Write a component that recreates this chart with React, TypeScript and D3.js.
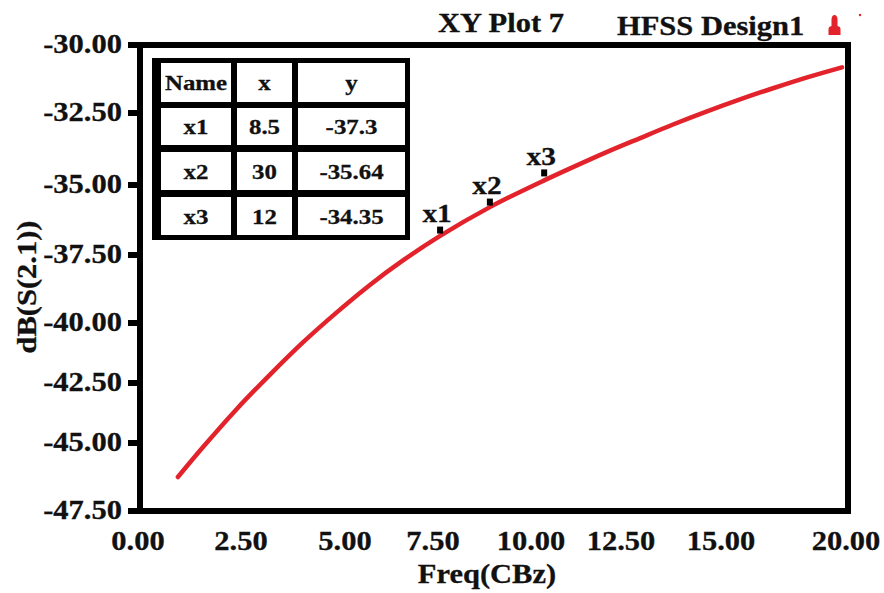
import * as d3 from "d3";

// chart size
const width = 884;
const height = 593;

// axis ticks (the picture's axes are unevenly spaced, so scales are piecewise)
const xTicks = [0, 2.5, 5, 7.5, 10, 12.5, 15, 20];
const xTickPos = [140, 243, 347, 435, 533, 623, 723, 848];
const yTicks = [-30, -32.5, -35, -37.5, -40, -42.5, -45, -47.5];
const yTickPos = [45, 113, 185, 255, 323, 383, 443, 511];

// dB(S(2,1)) curve
const freq = [0.92, 1.53, 2.35, 3.15, 3.94, 4.76, 5.65, 6.59, 7.63, 8.9, 10.31, 11.11, 12.06, 12.93, 13.75, 14.6, 15.68, 17.0, 18.4, 19.76];
const dB = [-46.25, -45.15, -43.58, -42.15, -40.81, -39.6, -38.6, -37.7, -36.82, -35.79, -34.84, -34.38, -33.85, -33.37, -32.9, -32.44, -32.0, -31.59, -31.18, -30.82];

// markers on the curve
const markerNames = ["x1", "x2", "x3"];
const markerFreq = [7.63, 8.9, 10.31];
const markerDB = [-36.61, -35.61, -34.58];

// marker table text (as printed)
const tableHeader = ["Name", "x", "y"];
const tableX = ["8.5", "30", "12"];
const tableY = ["-37.3", "-35.64", "-34.35"];

const font = "'Liberation Serif', 'Times New Roman', serif";
const ink = "#111";
const red = "#e3232b";

const x = d3.scaleLinear().domain(xTicks).range(xTickPos);
const y = d3.scaleLinear().domain(yTicks).range(yTickPos);

const T = ({ px, py, size = 27, anchor = "start", rotate = 0, children }: any) => (
	<text
		transform={`translate(${px},${py}) rotate(${rotate}) scale(1.13,1)`}
		textAnchor={anchor}
		fontFamily={font}
		fontWeight="bold"
		fontSize={size}
		fill={ink}
		stroke={ink}
		strokeWidth={0.3}
	>
		{children}
	</text>
);

// table layout
const colEdges = [[161, 231], [237, 292], [298, 405]];
const rowEdges = [[63, 102], [108, 145], [152, 190], [197, 235]];

const App = () => {
	const line = d3.line<number>()
		.x((d, i) => x(freq[i]))
		.y((d) => y(d))
		.curve(d3.curveMonotoneX);

	const rows = [tableHeader, ...markerNames.map((n, i) => [n, tableX[i], tableY[i]])];

	return (
		<svg width={width} height={height} style={{ position: "absolute", left: 0, top: 0, background: "#fff" }}>
			{/* titles */}
			<T px={438} py={32}>XY Plot 7</T>
			<T px={617} py={35}>HFSS Design1</T>
			<path d="M828.5,35 L828.5,29 Q828.5,26.5 831.5,26 L831.5,19 Q832,15 834.5,15 Q837,15 837.5,19 L837.5,26 Q840.5,26.5 840.5,29 L840.5,35 Z" fill={red} />
			<circle cx={860} cy={15} r={1.2} fill={red} />

			{/* curve */}
			<path d={line(dB) ?? ""} fill="none" stroke={red} strokeWidth={4.5} strokeLinecap="round" />

			{/* frame */}
			<rect x={x(0)} y={y(-30)} width={x(20) - x(0)} height={y(-47.5) - y(-30)} fill="none" stroke="#000" strokeWidth={6} />

			{/* y ticks and labels */}
			{yTicks.map((t) => (
				<g key={t}>
					<line x1={x(0) - 12} x2={x(0)} y1={y(t)} y2={y(t)} stroke="#000" strokeWidth={6} />
					<T px={122} py={y(t) + 8} anchor="end">{t.toFixed(2)}</T>
				</g>
			))}

			{/* x labels */}
			{xTicks.map((t) => (
				<T key={t} px={x(t) - 2} py={550} anchor="middle">{t.toFixed(2)}</T>
			))}

			{/* axis titles */}
			<T px={487} py={583} anchor="middle">Freq(CBz)</T>
			<T px={36} py={287} anchor="middle" rotate={-90}>dB(S(2.1))</T>

			{/* markers */}
			{markerNames.map((n, i) => (
				<g key={n}>
					<rect x={x(markerFreq[i]) - 3} y={y(markerDB[i]) - 3.5} width={6} height={7} fill="#000" />
					<T px={x(markerFreq[i]) - 3} py={y(markerDB[i]) - 8} size={26} anchor="middle">{n}</T>
				</g>
			))}

			{/* marker table */}
			<rect x={152} y={58} width={258} height={182} fill="#000" />
			{rows.map((r, ri) =>
				r.map((c, ci) => (
					<g key={`${ri}-${ci}`}>
						<rect
							x={colEdges[ci][0]}
							y={rowEdges[ri][0]}
							width={colEdges[ci][1] - colEdges[ci][0]}
							height={rowEdges[ri][1] - rowEdges[ri][0]}
							fill="#fff"
						/>
						<T px={(colEdges[ci][0] + colEdges[ci][1]) / 2} py={(rowEdges[ri][0] + rowEdges[ri][1]) / 2 + 7.5} size={22} anchor="middle">
							{c}
						</T>
					</g>
				))
			)}
		</svg>
	);
};

export default App;
